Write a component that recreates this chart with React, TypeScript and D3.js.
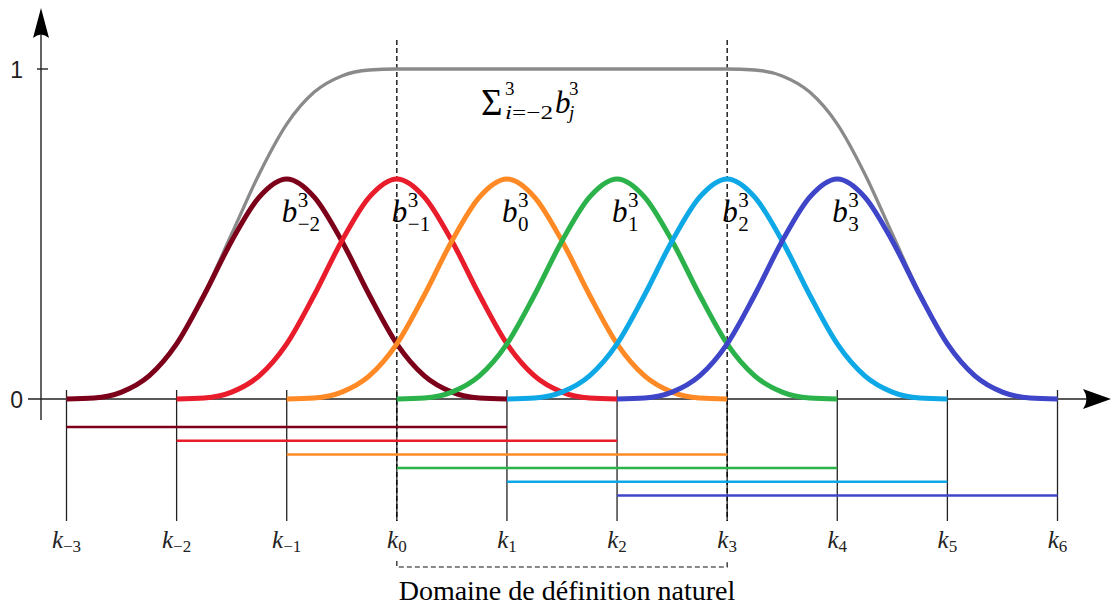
import React from 'react';
import * as d3 from 'd3';

// knots k_-3 .. k_6
const knots = [-3, -2, -1, 0, 1, 2, 3, 4, 5, 6];
const knotSubs = ['−3', '−2', '−1', '0', '1', '2', '3', '4', '5', '6'];

// basis functions b_j^3, j = -2 .. 3 (each starts at knot j-1)
const basisIndex = [-2, -1, 0, 1, 2, 3];
const basisSubs = ['−2', '−1', '0', '1', '2', '3'];
const basisColors = ['#7c0019', '#e81c2a', '#ff8a25', '#2bb24a', '#0ea8e6', '#3f45c8'];

// one bump, read every quarter knot from its left end
const bumpOffsets = [0, 0.25, 0.5, 0.75, 1, 1.25, 1.5, 1.75, 2, 2.25, 2.5, 2.75, 3, 3.25, 3.5, 3.75, 4];
const bumpValues = [0, 0.003, 0.021, 0.07, 0.167, 0.315, 0.479, 0.612, 0.667, 0.612, 0.479, 0.315, 0.167, 0.07, 0.021, 0.003, 0];

// sum of all bases, k_-3 .. k_6 in quarter knots
const sumValues = [
  0, 0.003, 0.021, 0.07, 0.167, 0.318, 0.5, 0.682, 0.833, 0.93, 0.979, 0.997,
  1, 1, 1, 1, 1, 1, 1, 1, 1, 1, 1, 1, 1,
  0.997, 0.979, 0.93, 0.833, 0.682, 0.5, 0.318, 0.167, 0.07, 0.021, 0.003, 0,
];

const yTicks = [0, 1];
const domainKnots = [0, 3];

const W = 1111;
const H = 608;

const x = d3.scaleLinear().domain([-3, 6]).range([66.5, 1057.5]);
const y = d3.scaleLinear().domain([0, 1]).range([399, 69]);

const line = d3.line<[number, number]>()
  .x(d => x(d[0]))
  .y(d => y(d[1]))
  .curve(d3.curveMonotoneX);

const serif = '"Liberation Serif", "Times New Roman", serif';

export default function App() {
  const sumPts: [number, number][] = sumValues.map((v, i) => [-3 + i * 0.25, v]);

  return (
    <svg width={W} height={H} style={{ position: 'absolute', left: 0, top: 0, background: '#fff' }}>
      {/* knot verticals */}
      {knots.map(k => (
        <line key={'kl' + k} x1={x(k)} x2={x(k)} y1={390} y2={521} stroke="#222" strokeWidth={1.3} />
      ))}
      {/* dashed domain verticals */}
      {domainKnots.map(k => (
        <line key={'dv' + k} x1={x(k)} x2={x(k)} y1={40} y2={521} stroke="#000" strokeWidth={1.3} strokeDasharray="5,3" />
      ))}

      {/* axes */}
      <line x1={28} x2={1090} y1={y(0)} y2={y(0)} stroke="#222" strokeWidth={1.4} />
      <path d={`M1111,${y(0)} L1083,${y(0) - 10} Q1090,${y(0)} 1083,${y(0) + 10} Z`} fill="#000" />
      <line x1={41} x2={41} y1={420} y2={30} stroke="#222" strokeWidth={1.4} />
      <path d="M41,8 L33,38 Q41,31 49,38 Z" fill="#000" />
      {yTicks.map(t => (
        <g key={'yt' + t}>
          {t > 0 && <line x1={37} x2={48} y1={y(t)} y2={y(t)} stroke="#222" strokeWidth={1.4} />}
          <text x={23} y={y(t) + 9} textAnchor="end" fontSize={23}
            fontFamily='"Liberation Sans", Arial, sans-serif' fill="#222">{t}</text>
        </g>
      ))}

      {/* support ranges */}
      {basisIndex.map((j, i) => (
        <line key={'sr' + j} x1={x(j - 1)} x2={x(j + 3)} y1={427 + i * 13.7} y2={427 + i * 13.7}
          stroke={basisColors[i]} strokeWidth={2.5} />
      ))}

      {/* sum curve */}
      <path d={line(sumPts) || ''} fill="none" stroke="#8a8a8a" strokeWidth={3.3} />

      {/* basis curves */}
      {basisIndex.map((j, i) => {
        const pts: [number, number][] = bumpOffsets.map((o, n) => [j - 1 + o, bumpValues[n]]);
        return <path key={'b' + j} d={line(pts) || ''} fill="none" stroke={basisColors[i]} strokeWidth={5} />;
      })}

      {/* basis labels */}
      {basisIndex.map((j, i) => {
        const bx = x(j + 1) - 5;
        return (
          <g key={'lab' + j} fontFamily={serif} fill="#000">
            <text x={bx} y={222} fontSize={31} fontStyle="italic">b</text>
            <text x={bx + 16} y={207} fontSize={21}>3</text>
            <text x={bx + 16} y={231} fontSize={21}>{basisSubs[i]}</text>
          </g>
        );
      })}

      {/* sum label */}
      <g fontFamily={serif} fill="#000">
        <text x={481} y={115} fontSize={37}>Σ</text>
        <text x={505} y={95} fontSize={19}>3</text>
        <text x={505} y={119} fontSize={19} textLength={48} lengthAdjust="spacingAndGlyphs">
          <tspan fontStyle="italic">i</tspan>=−2
        </text>
        <text x={555} y={113} fontSize={31} fontStyle="italic">b</text>
        <text x={569} y={95} fontSize={19}>3</text>
        <text x={569} y={119} fontSize={19} fontStyle="italic">j</text>
      </g>

      {/* knot labels */}
      {knots.map((k, i) => (
        <text key={'kt' + k} x={x(k)} y={548} textAnchor="middle" fontFamily={serif} fill="#222">
          <tspan fontSize={25} fontStyle="italic">k</tspan>
          <tspan fontSize={17} dy={4}>{knotSubs[i]}</tspan>
        </text>
      ))}

      {/* natural domain bracket */}
      <path d={`M${x(0)},561 L${x(0)},567 L${x(3)},567 L${x(3)},561`} fill="none" stroke="#111"
        strokeWidth={1.2} strokeDasharray="5,3" />
      <text x={567} y={600} textAnchor="middle" fontFamily={serif} fontSize={28} fill="#000">
        Domaine de définition naturel
      </text>
    </svg>
  );
}
